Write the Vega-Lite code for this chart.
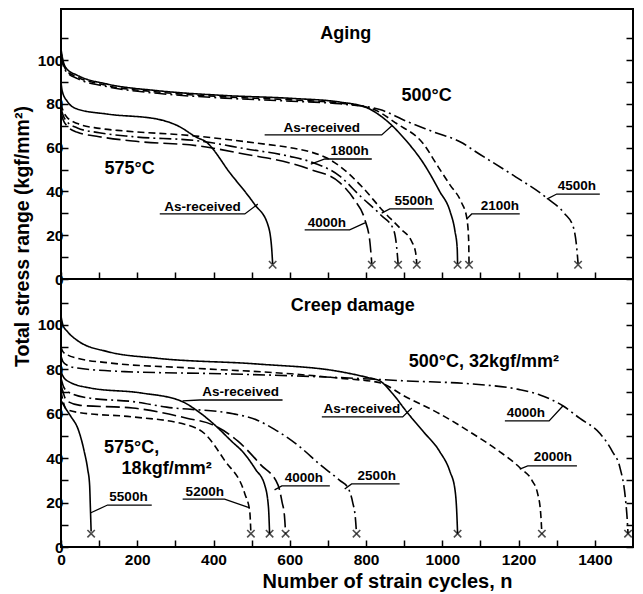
{
  "$schema": "https://vega.github.io/schema/vega-lite/v6.json",
  "background": "white",
  "padding": {"left": 11, "top": 8, "right": 10, "bottom": 0},
  "spacing": 0,
  "bounds": "flush",
  "config": {
    "view": {"stroke": "black", "strokeWidth": 2},
    "axis": {"domain": false, "grid": false, "tickColor": "black", "tickWidth": 1.5, "labelColor": "black", "labelFont": "Liberation Sans", "labelFontSize": 15.5, "labelFontWeight": "bold", "labelOverlap": false, "labelFlush": false, "titleFont": "Liberation Sans", "titleFontSize": 19.5, "titleFontWeight": "bold", "titleColor": "black"},
    "text": {"font": "Liberation Sans", "fontWeight": "bold", "color": "black"}
  },
  "datasets": {
    "curves": [
      {"p":"Aging","c":"A500 As-received","n":0,"s":105},{"p":"Aging","c":"A500 As-received","n":5,"s":100},{"p":"Aging","c":"A500 As-received","n":15,"s":96},{"p":"Aging","c":"A500 As-received","n":43,"s":93},{"p":"Aging","c":"A500 As-received","n":122,"s":89},{"p":"Aging","c":"A500 As-received","n":253,"s":86},{"p":"Aging","c":"A500 As-received","n":429,"s":83.8},{"p":"Aging","c":"A500 As-received","n":603,"s":82.5},{"p":"Aging","c":"A500 As-received","n":731,"s":80.8},{"p":"Aging","c":"A500 As-received","n":801,"s":78.3},{"p":"Aging","c":"A500 As-received","n":844,"s":73.7},{"p":"Aging","c":"A500 As-received","n":906,"s":63},{"p":"Aging","c":"A500 As-received","n":950,"s":53},{"p":"Aging","c":"A500 As-received","n":993,"s":40},{"p":"Aging","c":"A500 As-received","n":1020,"s":31},{"p":"Aging","c":"A500 As-received","n":1033,"s":22},{"p":"Aging","c":"A500 As-received","n":1039,"s":14},{"p":"Aging","c":"A500 As-received","n":1040,"s":7},
      {"p":"Aging","c":"A500 2100h","n":0,"s":103.5},{"p":"Aging","c":"A500 2100h","n":5,"s":99},{"p":"Aging","c":"A500 2100h","n":15,"s":95},{"p":"Aging","c":"A500 2100h","n":43,"s":92.2},{"p":"Aging","c":"A500 2100h","n":122,"s":88.3},{"p":"Aging","c":"A500 2100h","n":253,"s":85.4},{"p":"Aging","c":"A500 2100h","n":429,"s":83.2},{"p":"Aging","c":"A500 2100h","n":603,"s":81.8},{"p":"Aging","c":"A500 2100h","n":731,"s":80.3},{"p":"Aging","c":"A500 2100h","n":818,"s":77.6},{"p":"Aging","c":"A500 2100h","n":880,"s":71},{"p":"Aging","c":"A500 2100h","n":949,"s":62},{"p":"Aging","c":"A500 2100h","n":990,"s":51},{"p":"Aging","c":"A500 2100h","n":1020,"s":43},{"p":"Aging","c":"A500 2100h","n":1050,"s":35},{"p":"Aging","c":"A500 2100h","n":1064,"s":28},{"p":"Aging","c":"A500 2100h","n":1069,"s":18},{"p":"Aging","c":"A500 2100h","n":1070,"s":7},
      {"p":"Aging","c":"A500 4500h","n":0,"s":102.5},{"p":"Aging","c":"A500 4500h","n":5,"s":98},{"p":"Aging","c":"A500 4500h","n":15,"s":94.5},{"p":"Aging","c":"A500 4500h","n":43,"s":91.5},{"p":"Aging","c":"A500 4500h","n":122,"s":87.8},{"p":"Aging","c":"A500 4500h","n":253,"s":84.8},{"p":"Aging","c":"A500 4500h","n":429,"s":82.6},{"p":"Aging","c":"A500 4500h","n":603,"s":81.2},{"p":"Aging","c":"A500 4500h","n":731,"s":80},{"p":"Aging","c":"A500 4500h","n":836,"s":77.4},{"p":"Aging","c":"A500 4500h","n":906,"s":72},{"p":"Aging","c":"A500 4500h","n":980,"s":67},{"p":"Aging","c":"A500 4500h","n":1054,"s":62},{"p":"Aging","c":"A500 4500h","n":1080,"s":59},{"p":"Aging","c":"A500 4500h","n":1180,"s":48},{"p":"Aging","c":"A500 4500h","n":1274,"s":37},{"p":"Aging","c":"A500 4500h","n":1320,"s":30},{"p":"Aging","c":"A500 4500h","n":1343,"s":24},{"p":"Aging","c":"A500 4500h","n":1352,"s":15},{"p":"Aging","c":"A500 4500h","n":1356,"s":7},
      {"p":"Aging","c":"A575 As-received","n":0,"s":90},{"p":"Aging","c":"A575 As-received","n":3,"s":86},{"p":"Aging","c":"A575 As-received","n":17,"s":81},{"p":"Aging","c":"A575 As-received","n":43,"s":77.6},{"p":"Aging","c":"A575 As-received","n":122,"s":75.3},{"p":"Aging","c":"A575 As-received","n":253,"s":73},{"p":"Aging","c":"A575 As-received","n":306,"s":70},{"p":"Aging","c":"A575 As-received","n":358,"s":64.5},{"p":"Aging","c":"A575 As-received","n":377,"s":63},{"p":"Aging","c":"A575 As-received","n":445,"s":48},{"p":"Aging","c":"A575 As-received","n":508,"s":34},{"p":"Aging","c":"A575 As-received","n":542,"s":25},{"p":"Aging","c":"A575 As-received","n":552,"s":15},{"p":"Aging","c":"A575 As-received","n":555,"s":7},
      {"p":"Aging","c":"A575 5500h","n":0,"s":80},{"p":"Aging","c":"A575 5500h","n":5,"s":77},{"p":"Aging","c":"A575 5500h","n":15,"s":74},{"p":"Aging","c":"A575 5500h","n":43,"s":71},{"p":"Aging","c":"A575 5500h","n":100,"s":68.8},{"p":"Aging","c":"A575 5500h","n":167,"s":67.6},{"p":"Aging","c":"A575 5500h","n":340,"s":65.5},{"p":"Aging","c":"A575 5500h","n":516,"s":62},{"p":"Aging","c":"A575 5500h","n":600,"s":60},{"p":"Aging","c":"A575 5500h","n":655,"s":58},{"p":"Aging","c":"A575 5500h","n":700,"s":55},{"p":"Aging","c":"A575 5500h","n":731,"s":51.5},{"p":"Aging","c":"A575 5500h","n":790,"s":42},{"p":"Aging","c":"A575 5500h","n":845,"s":31},{"p":"Aging","c":"A575 5500h","n":890,"s":23},{"p":"Aging","c":"A575 5500h","n":920,"s":17},{"p":"Aging","c":"A575 5500h","n":930,"s":12},{"p":"Aging","c":"A575 5500h","n":933,"s":7},
      {"p":"Aging","c":"A575 1800h","n":0,"s":78},{"p":"Aging","c":"A575 1800h","n":5,"s":75},{"p":"Aging","c":"A575 1800h","n":15,"s":72},{"p":"Aging","c":"A575 1800h","n":43,"s":69},{"p":"Aging","c":"A575 1800h","n":100,"s":66.8},{"p":"Aging","c":"A575 1800h","n":188,"s":65},{"p":"Aging","c":"A575 1800h","n":364,"s":63},{"p":"Aging","c":"A575 1800h","n":483,"s":59.5},{"p":"Aging","c":"A575 1800h","n":600,"s":56},{"p":"Aging","c":"A575 1800h","n":655,"s":53.5},{"p":"Aging","c":"A575 1800h","n":731,"s":47},{"p":"Aging","c":"A575 1800h","n":784,"s":38},{"p":"Aging","c":"A575 1800h","n":840,"s":29},{"p":"Aging","c":"A575 1800h","n":871,"s":23},{"p":"Aging","c":"A575 1800h","n":880,"s":15},{"p":"Aging","c":"A575 1800h","n":884,"s":7},
      {"p":"Aging","c":"A575 4000h","n":0,"s":76},{"p":"Aging","c":"A575 4000h","n":5,"s":73},{"p":"Aging","c":"A575 4000h","n":15,"s":70},{"p":"Aging","c":"A575 4000h","n":43,"s":67},{"p":"Aging","c":"A575 4000h","n":100,"s":65},{"p":"Aging","c":"A575 4000h","n":188,"s":63},{"p":"Aging","c":"A575 4000h","n":364,"s":60.7},{"p":"Aging","c":"A575 4000h","n":483,"s":57},{"p":"Aging","c":"A575 4000h","n":600,"s":53},{"p":"Aging","c":"A575 4000h","n":655,"s":50},{"p":"Aging","c":"A575 4000h","n":731,"s":44},{"p":"Aging","c":"A575 4000h","n":770,"s":36},{"p":"Aging","c":"A575 4000h","n":797,"s":27},{"p":"Aging","c":"A575 4000h","n":810,"s":17},{"p":"Aging","c":"A575 4000h","n":815,"s":7},
      {"p":"Creep","c":"C500 As-received","n":0,"s":104},{"p":"Creep","c":"C500 As-received","n":5,"s":100},{"p":"Creep","c":"C500 As-received","n":17,"s":97},{"p":"Creep","c":"C500 As-received","n":43,"s":93},{"p":"Creep","c":"C500 As-received","n":122,"s":88},{"p":"Creep","c":"C500 As-received","n":253,"s":85},{"p":"Creep","c":"C500 As-received","n":516,"s":82.4},{"p":"Creep","c":"C500 As-received","n":731,"s":79},{"p":"Creep","c":"C500 As-received","n":800,"s":76.5},{"p":"Creep","c":"C500 As-received","n":836,"s":74.8},{"p":"Creep","c":"C500 As-received","n":870,"s":69},{"p":"Creep","c":"C500 As-received","n":906,"s":61},{"p":"Creep","c":"C500 As-received","n":950,"s":52},{"p":"Creep","c":"C500 As-received","n":993,"s":43},{"p":"Creep","c":"C500 As-received","n":1020,"s":34},{"p":"Creep","c":"C500 As-received","n":1033,"s":26},{"p":"Creep","c":"C500 As-received","n":1038,"s":15},{"p":"Creep","c":"C500 As-received","n":1040,"s":6},
      {"p":"Creep","c":"C500 2000h","n":0,"s":90},{"p":"Creep","c":"C500 2000h","n":5,"s":88},{"p":"Creep","c":"C500 2000h","n":17,"s":86.5},{"p":"Creep","c":"C500 2000h","n":43,"s":85},{"p":"Creep","c":"C500 2000h","n":122,"s":83},{"p":"Creep","c":"C500 2000h","n":340,"s":80.6},{"p":"Creep","c":"C500 2000h","n":603,"s":78},{"p":"Creep","c":"C500 2000h","n":731,"s":76},{"p":"Creep","c":"C500 2000h","n":836,"s":74},{"p":"Creep","c":"C500 2000h","n":900,"s":68},{"p":"Creep","c":"C500 2000h","n":993,"s":60},{"p":"Creep","c":"C500 2000h","n":1080,"s":51},{"p":"Creep","c":"C500 2000h","n":1150,"s":43},{"p":"Creep","c":"C500 2000h","n":1204,"s":35.6},{"p":"Creep","c":"C500 2000h","n":1235,"s":30},{"p":"Creep","c":"C500 2000h","n":1250,"s":24},{"p":"Creep","c":"C500 2000h","n":1258,"s":15},{"p":"Creep","c":"C500 2000h","n":1261,"s":6},
      {"p":"Creep","c":"C500 4000h","n":0,"s":86},{"p":"Creep","c":"C500 4000h","n":5,"s":83.5},{"p":"Creep","c":"C500 4000h","n":17,"s":81.8},{"p":"Creep","c":"C500 4000h","n":43,"s":80.6},{"p":"Creep","c":"C500 4000h","n":167,"s":79},{"p":"Creep","c":"C500 4000h","n":429,"s":78},{"p":"Creep","c":"C500 4000h","n":744,"s":76.2},{"p":"Creep","c":"C500 4000h","n":906,"s":74.8},{"p":"Creep","c":"C500 4000h","n":1080,"s":73.4},{"p":"Creep","c":"C500 4000h","n":1200,"s":71},{"p":"Creep","c":"C500 4000h","n":1256,"s":68.5},{"p":"Creep","c":"C500 4000h","n":1317,"s":63.5},{"p":"Creep","c":"C500 4000h","n":1360,"s":58},{"p":"Creep","c":"C500 4000h","n":1414,"s":51},{"p":"Creep","c":"C500 4000h","n":1446,"s":43},{"p":"Creep","c":"C500 4000h","n":1466,"s":35.6},{"p":"Creep","c":"C500 4000h","n":1480,"s":22},{"p":"Creep","c":"C500 4000h","n":1485,"s":12},{"p":"Creep","c":"C500 4000h","n":1487,"s":6},
      {"p":"Creep","c":"C575 As-received","n":0,"s":79},{"p":"Creep","c":"C575 As-received","n":5,"s":77},{"p":"Creep","c":"C575 As-received","n":17,"s":74.8},{"p":"Creep","c":"C575 As-received","n":77,"s":71.6},{"p":"Creep","c":"C575 As-received","n":209,"s":69.4},{"p":"Creep","c":"C575 As-received","n":314,"s":65.8},{"p":"Creep","c":"C575 As-received","n":360,"s":61},{"p":"Creep","c":"C575 As-received","n":403,"s":55},{"p":"Creep","c":"C575 As-received","n":445,"s":48},{"p":"Creep","c":"C575 As-received","n":481,"s":42},{"p":"Creep","c":"C575 As-received","n":510,"s":35},{"p":"Creep","c":"C575 As-received","n":534,"s":28},{"p":"Creep","c":"C575 As-received","n":544,"s":18},{"p":"Creep","c":"C575 As-received","n":547,"s":6},
      {"p":"Creep","c":"C575 2500h","n":0,"s":76},{"p":"Creep","c":"C575 2500h","n":5,"s":73},{"p":"Creep","c":"C575 2500h","n":17,"s":70},{"p":"Creep","c":"C575 2500h","n":77,"s":67},{"p":"Creep","c":"C575 2500h","n":188,"s":65.5},{"p":"Creep","c":"C575 2500h","n":277,"s":63},{"p":"Creep","c":"C575 2500h","n":451,"s":60},{"p":"Creep","c":"C575 2500h","n":516,"s":57},{"p":"Creep","c":"C575 2500h","n":560,"s":53},{"p":"Creep","c":"C575 2500h","n":627,"s":45},{"p":"Creep","c":"C575 2500h","n":680,"s":37},{"p":"Creep","c":"C575 2500h","n":731,"s":30},{"p":"Creep","c":"C575 2500h","n":753,"s":26.5},{"p":"Creep","c":"C575 2500h","n":765,"s":20},{"p":"Creep","c":"C575 2500h","n":772,"s":13},{"p":"Creep","c":"C575 2500h","n":775,"s":6},
      {"p":"Creep","c":"C575 4000h","n":0,"s":73},{"p":"Creep","c":"C575 4000h","n":5,"s":70},{"p":"Creep","c":"C575 4000h","n":14,"s":66},{"p":"Creep","c":"C575 4000h","n":50,"s":63.8},{"p":"Creep","c":"C575 4000h","n":188,"s":62.6},{"p":"Creep","c":"C575 4000h","n":330,"s":58},{"p":"Creep","c":"C575 4000h","n":398,"s":55},{"p":"Creep","c":"C575 4000h","n":464,"s":47.7},{"p":"Creep","c":"C575 4000h","n":524,"s":37},{"p":"Creep","c":"C575 4000h","n":569,"s":28},{"p":"Creep","c":"C575 4000h","n":580,"s":20},{"p":"Creep","c":"C575 4000h","n":586,"s":14},{"p":"Creep","c":"C575 4000h","n":589,"s":6},
      {"p":"Creep","c":"C575 5200h","n":0,"s":70},{"p":"Creep","c":"C575 5200h","n":5,"s":66},{"p":"Creep","c":"C575 5200h","n":14,"s":62},{"p":"Creep","c":"C575 5200h","n":50,"s":60.5},{"p":"Creep","c":"C575 5200h","n":188,"s":58.6},{"p":"Creep","c":"C575 5200h","n":330,"s":55},{"p":"Creep","c":"C575 5200h","n":377,"s":51},{"p":"Creep","c":"C575 5200h","n":429,"s":39},{"p":"Creep","c":"C575 5200h","n":482,"s":24},{"p":"Creep","c":"C575 5200h","n":495,"s":16},{"p":"Creep","c":"C575 5200h","n":498,"s":6},
      {"p":"Creep","c":"C575 5500h","n":0,"s":66},{"p":"Creep","c":"C575 5500h","n":10,"s":63},{"p":"Creep","c":"C575 5500h","n":25,"s":59},{"p":"Creep","c":"C575 5500h","n":45,"s":53},{"p":"Creep","c":"C575 5500h","n":61,"s":43},{"p":"Creep","c":"C575 5500h","n":70,"s":35},{"p":"Creep","c":"C575 5500h","n":75,"s":28},{"p":"Creep","c":"C575 5500h","n":77,"s":18},{"p":"Creep","c":"C575 5500h","n":79,"s":7}
    ],
    "ends": [
      {"p":"Aging","n":555,"s":6.5},{"p":"Aging","n":815,"s":6.5},{"p":"Aging","n":884,"s":6.5},{"p":"Aging","n":933,"s":6.5},{"p":"Aging","n":1040,"s":6.5},{"p":"Aging","n":1070,"s":6.5},{"p":"Aging","n":1356,"s":6.5},
      {"p":"Creep","n":79,"s":6},{"p":"Creep","n":498,"s":6},{"p":"Creep","n":547,"s":6},{"p":"Creep","n":589,"s":6},{"p":"Creep","n":775,"s":6},{"p":"Creep","n":1040,"s":6},{"p":"Creep","n":1261,"s":6},{"p":"Creep","n":1487,"s":6}
    ],
    "labels": [
      {"p":"Aging","kind":"head","t":"Aging","n":747,"s":112},
      {"p":"Aging","kind":"head","t":"500°C","n":959,"s":83.6},
      {"p":"Aging","kind":"head","t":"575°C","n":180,"s":50.2},
      {"p":"Aging","kind":"tag","t":"As-received","n":371,"s":32.9},
      {"p":"Aging","kind":"tag","t":"As-received","n":684,"s":69},
      {"p":"Aging","kind":"tag","t":"1800h","n":757,"s":58.4},
      {"p":"Aging","kind":"tag","t":"5500h","n":925,"s":35.6},
      {"p":"Aging","kind":"tag","t":"4000h","n":697,"s":25.6},
      {"p":"Aging","kind":"tag","t":"2100h","n":1151,"s":33.3},
      {"p":"Aging","kind":"tag","t":"4500h","n":1353,"s":42.5},
      {"p":"Creep","kind":"head","t":"Creep damage","n":765,"s":108.6},
      {"p":"Creep","kind":"head","t":"500°C, 32kgf/mm²","n":1109,"s":83.3},
      {"p":"Creep","kind":"head","t":"575°C,","n":185,"s":44.6},
      {"p":"Creep","kind":"head","t":"18kgf/mm²","n":277,"s":35.1},
      {"p":"Creep","kind":"tag","t":"As-received","n":471,"s":69.8},
      {"p":"Creep","kind":"tag","t":"As-received","n":789,"s":62.2},
      {"p":"Creep","kind":"tag","t":"4000h","n":1219,"s":60.4},
      {"p":"Creep","kind":"tag","t":"2000h","n":1290,"s":40.5},
      {"p":"Creep","kind":"tag","t":"2500h","n":828,"s":32},
      {"p":"Creep","kind":"tag","t":"4000h","n":637,"s":31.1},
      {"p":"Creep","kind":"tag","t":"5200h","n":377,"s":24.8},
      {"p":"Creep","kind":"tag","t":"5500h","n":177,"s":22.5}
    ],
    "leaders": [
      {"p":"Aging","id":"L1","k":1,"n":516,"s":34.2},{"p":"Aging","id":"L1","k":2,"n":482,"s":29.7},{"p":"Aging","id":"L1","k":3,"n":259,"s":29.7},
      {"p":"Aging","id":"L2","k":1,"n":867,"s":69.9},{"p":"Aging","id":"L2","k":2,"n":841,"s":65.8},{"p":"Aging","id":"L2","k":3,"n":534,"s":65.8},
      {"p":"Aging","id":"L3","k":1,"n":655,"s":52.5},{"p":"Aging","id":"L3","k":2,"n":692,"s":54.8},{"p":"Aging","id":"L3","k":3,"n":815,"s":54.8},
      {"p":"Aging","id":"L4","k":1,"n":841,"s":30.1},{"p":"Aging","id":"L4","k":2,"n":862,"s":32},{"p":"Aging","id":"L4","k":3,"n":978,"s":32},
      {"p":"Aging","id":"L5","k":1,"n":797,"s":25.6},{"p":"Aging","id":"L5","k":2,"n":757,"s":22.4},{"p":"Aging","id":"L5","k":3,"n":639,"s":22.4},
      {"p":"Aging","id":"L6","k":1,"n":1064,"s":27.4},{"p":"Aging","id":"L6","k":2,"n":1077,"s":29.7},{"p":"Aging","id":"L6","k":3,"n":1203,"s":29.7},
      {"p":"Aging","id":"L7","k":1,"n":1274,"s":36.5},{"p":"Aging","id":"L7","k":2,"n":1300,"s":38.8},{"p":"Aging","id":"L7","k":3,"n":1413,"s":38.8},
      {"p":"Creep","id":"M1","k":1,"n":319,"s":65.8},{"p":"Creep","id":"M1","k":2,"n":364,"s":66.2},{"p":"Creep","id":"M1","k":3,"n":581,"s":66.2},
      {"p":"Creep","id":"M2","k":1,"n":920,"s":62.6},{"p":"Creep","id":"M2","k":2,"n":896,"s":58.6},{"p":"Creep","id":"M2","k":3,"n":684,"s":58.6},
      {"p":"Creep","id":"M3","k":1,"n":1316,"s":63.5},{"p":"Creep","id":"M3","k":2,"n":1280,"s":56.8},{"p":"Creep","id":"M3","k":3,"n":1164,"s":56.8},
      {"p":"Creep","id":"M4","k":1,"n":1203,"s":35.1},{"p":"Creep","id":"M4","k":2,"n":1224,"s":36.5},{"p":"Creep","id":"M4","k":3,"n":1353,"s":36.5},
      {"p":"Creep","id":"M5","k":1,"n":744,"s":26.1},{"p":"Creep","id":"M5","k":2,"n":762,"s":28.4},{"p":"Creep","id":"M5","k":3,"n":888,"s":28.4},
      {"p":"Creep","id":"M6","k":1,"n":560,"s":25.7},{"p":"Creep","id":"M6","k":2,"n":579,"s":27.5},{"p":"Creep","id":"M6","k":3,"n":705,"s":27.5},
      {"p":"Creep","id":"M7","k":1,"n":495,"s":17.6},{"p":"Creep","id":"M7","k":2,"n":429,"s":21.6},{"p":"Creep","id":"M7","k":3,"n":319,"s":21.6},
      {"p":"Creep","id":"M8","k":1,"n":77,"s":15.3},{"p":"Creep","id":"M8","k":2,"n":122,"s":18.9},{"p":"Creep","id":"M8","k":3,"n":238,"s":18.9}
    ]
  },
  "vconcat": [
    {
      "width": 572,
      "height": 270,
      "resolve": {"axis": {"y": "independent"}},
      "encoding": {
        "x": {"field": "n", "type": "quantitative", "scale": {"domain": [0, 1500], "nice": false, "zero": false}, "axis": {"values": [0,100,200,300,400,500,600,700,800,900,1000,1100,1200,1300,1400], "labels": false, "tickSize": -7, "title": null}},
        "y": {"field": "s", "type": "quantitative", "scale": {"domain": [0, 123.3], "nice": false}, "axis": null}
      },
      "layer": [
        {
          "data": {"name": "curves"},
          "transform": [{"filter": "datum.p == 'Aging'"}],
          "mark": {"type": "line", "color": "black", "strokeWidth": 1.6, "interpolate": "monotone"},
          "encoding": {
            "y": {"field": "s", "type": "quantitative", "scale": {"domain": [0, 123.3], "nice": false}, "axis": {"values": [0,10,20,30,40,50,60,70,80,90,100,110], "labelExpr": "datum.value % 20 == 0 && datum.value <= 100 ? datum.label : ''", "tickSize": -7, "labelPadding": 5, "title": "Total stress range (kgf/mm²)", "titleY": 227, "titleAlign": "center", "titlePadding": 5}},
            "strokeDash": {"field": "c", "type": "nominal", "legend": null, "scale": {"domain": ["A500 As-received","A500 2100h","A500 4500h","A575 As-received","A575 1800h","A575 4000h","A575 5500h"], "range": [[1,0],[7,4],[12,4,2,4],[1,0],[12,4,2,4],[14,5],[7,4]]}}
          }
        },
        {
          "data": {"name": "ends"},
          "transform": [{"filter": "datum.p == 'Aging'"}],
          "mark": {"type": "point", "shape": "M-1,-1L1,1M-1,1L1,-1", "size": 55, "stroke": "black", "strokeWidth": 1.6, "filled": false},
          "encoding": {
            "y": {"field": "s", "type": "quantitative", "scale": {"domain": [0, 123.3], "nice": false}, "axis": {"orient": "right", "values": [0,10,20,30,40,50,60,70,80,90,100,110], "labels": false, "tickSize": -7, "title": null}}
          }
        },
        {
          "data": {"name": "leaders"},
          "transform": [{"filter": "datum.p == 'Aging'"}],
          "mark": {"type": "line", "color": "black", "strokeWidth": 1.3},
          "encoding": {"detail": {"field": "id"}, "order": {"field": "k", "type": "quantitative"}}
        },
        {
          "data": {"name": "labels"},
          "transform": [{"filter": "datum.p == 'Aging' && datum.kind == 'head'"}],
          "mark": {"type": "text", "fontSize": 18},
          "encoding": {"text": {"field": "t"}}
        },
        {
          "data": {"name": "labels"},
          "transform": [{"filter": "datum.p == 'Aging' && datum.kind == 'tag'"}],
          "mark": {"type": "text", "fontSize": 13.5},
          "encoding": {"text": {"field": "t"}}
        }
      ]
    },
    {
      "width": 572,
      "height": 268,
      "resolve": {"axis": {"y": "independent"}},
      "encoding": {
        "x": {"field": "n", "type": "quantitative", "scale": {"domain": [0, 1500], "nice": false, "zero": false}, "axis": {"values": [0,100,200,300,400,500,600,700,800,900,1000,1100,1200,1300,1400], "format": "d", "labelExpr": "datum.value % 200 == 0 ? datum.label : ''", "tickSize": -7, "labelPadding": 12, "title": "Number of strain cycles, n", "titleFontSize": 20, "titleX": 326, "titlePadding": 4}},
        "y": {"field": "s", "type": "quantitative", "scale": {"domain": [0, 120.7], "nice": false}, "axis": null}
      },
      "layer": [
        {
          "data": {"name": "curves"},
          "transform": [{"filter": "datum.p == 'Creep'"}],
          "mark": {"type": "line", "color": "black", "strokeWidth": 1.6, "interpolate": "monotone"},
          "encoding": {
            "y": {"field": "s", "type": "quantitative", "scale": {"domain": [0, 120.7], "nice": false}, "axis": {"values": [0,10,20,30,40,50,60,70,80,90,100,110], "labelExpr": "datum.value % 20 == 0 && datum.value <= 100 ? datum.label : ''", "tickSize": -7, "labelPadding": 5, "title": null}},
            "strokeDash": {"field": "c", "type": "nominal", "legend": null, "scale": {"domain": ["C500 As-received","C500 2000h","C500 4000h","C575 As-received","C575 2500h","C575 4000h","C575 5200h","C575 5500h"], "range": [[1,0],[7,4],[12,4,2,4],[1,0],[7,4],[12,4,2,4],[14,5],[12,4,2,4]]}}
          }
        },
        {
          "data": {"name": "ends"},
          "transform": [{"filter": "datum.p == 'Creep'"}],
          "mark": {"type": "point", "shape": "M-1,-1L1,1M-1,1L1,-1", "size": 55, "stroke": "black", "strokeWidth": 1.6, "filled": false},
          "encoding": {
            "y": {"field": "s", "type": "quantitative", "scale": {"domain": [0, 120.7], "nice": false}, "axis": {"orient": "right", "values": [0,10,20,30,40,50,60,70,80,90,100,110], "labels": false, "tickSize": -7, "title": null}}
          }
        },
        {
          "data": {"name": "leaders"},
          "transform": [{"filter": "datum.p == 'Creep'"}],
          "mark": {"type": "line", "color": "black", "strokeWidth": 1.3},
          "encoding": {"detail": {"field": "id"}, "order": {"field": "k", "type": "quantitative"}}
        },
        {
          "data": {"name": "labels"},
          "transform": [{"filter": "datum.p == 'Creep' && datum.kind == 'head'"}],
          "mark": {"type": "text", "fontSize": 18},
          "encoding": {"text": {"field": "t"}}
        },
        {
          "data": {"name": "labels"},
          "transform": [{"filter": "datum.p == 'Creep' && datum.kind == 'tag'"}],
          "mark": {"type": "text", "fontSize": 13.5},
          "encoding": {"text": {"field": "t"}}
        }
      ]
    }
  ]
}
